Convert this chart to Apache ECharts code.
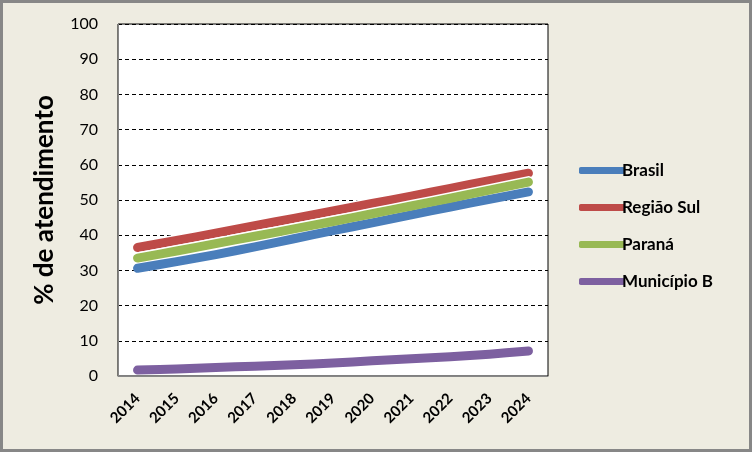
<!DOCTYPE html>
<html>
<head>
<meta charset="utf-8">
<script src="https://cdn.jsdelivr.net/npm/echarts@6/dist/echarts.min.js"></script>
<style>
  html, body { margin: 0; padding: 0; }
  #chart { width: 752px; height: 452px; }
</style>
</head>
<body>
<div id="chart"></div>
<script>
// data
var years = ['2014', '2015', '2016', '2017', '2018', '2019', '2020', '2021', '2022', '2023', '2024']
var brasil = [30.6, 32.5, 34.5, 36.7, 39.0, 41.3, 43.5, 45.8, 48.0, 50.2, 52.3]
var regiaoSul = [36.5, 38.5, 40.6, 42.7, 44.8, 46.9, 49.0, 51.1, 53.3, 55.5, 57.6]
var parana = [33.5, 35.5, 37.6, 39.7, 41.8, 43.9, 46.1, 48.3, 50.5, 52.8, 55.1]
var municipioB = [1.7, 2.0, 2.4, 2.8, 3.2, 3.7, 4.3, 4.9, 5.5, 6.2, 7.1]

var font = 'Lato, "Open Sans", sans-serif'

function lineSeries(name, data, color) {
  return {
    name: name,
    type: 'line',
    data: data,
    smooth: 0.3,
    symbol: 'none',
    lineStyle: {
      width: 9,
      color: color,
      cap: 'round',
      join: 'round',
      shadowColor: '#ffffff',
      shadowBlur: 0,
      shadowOffsetY: -1.5
    },
    itemStyle: { color: color }
  }
}

var chart = echarts.init(document.getElementById('chart'))
chart.setOption({
  backgroundColor: '#eeece1',
  animation: false,
  textStyle: { fontFamily: font },
  grid: {
    left: 118,
    right: 204,
    top: 24,
    bottom: 76,
    show: true,
    backgroundColor: '#ffffff',
    borderColor: '#000000',
    borderWidth: 1
  },
  legend: {
    orient: 'vertical',
    left: 574,
    top: 157,
    itemWidth: 46,
    itemHeight: 7,
    itemGap: 20,
    icon: 'roundRect',
    textStyle: { fontSize: 17, fontWeight: 'bold', color: '#000', fontFamily: font, padding: [0, 0, 0, -8] },
    data: ['Brasil', 'Região Sul', 'Paraná', 'Município B']
  },
  xAxis: {
    type: 'category',
    data: years,
    boundaryGap: true,
    axisLine: { lineStyle: { color: '#868686', width: 1 } },
    axisTick: { show: false },
    axisLabel: {
      interval: 0,
      rotate: 45,
      margin: 20,
      fontSize: 15,
      fontWeight: 'bold',
      color: '#000'
    }
  },
  yAxis: {
    type: 'value',
    min: 0,
    max: 100,
    interval: 10,
    name: '% de atendimento',
    nameLocation: 'middle',
    nameGap: 60,
    nameTextStyle: { fontSize: 26, fontWeight: 'bold', color: '#000', fontFamily: font },
    axisLine: { show: true, lineStyle: { color: '#868686', width: 1 } },
    axisTick: { show: false },
    axisLabel: { fontSize: 16, color: '#000', margin: 20 },
    splitLine: { lineStyle: { color: '#000', type: [4, 3], width: 1 } }
  },
  graphic: [{
    type: 'rect',
    z: 100,
    shape: { x: 1.5, y: 1.5, width: 749, height: 449 },
    style: { fill: null, stroke: '#878787', lineWidth: 3 }
  }],
  series: [
    lineSeries('Brasil', brasil, '#4a7ebb'),
    lineSeries('Região Sul', regiaoSul, '#be4b48'),
    lineSeries('Paraná', parana, '#98b954'),
    lineSeries('Município B', municipioB, '#7d60a0')
  ]
})
</script>
</body>
</html>
